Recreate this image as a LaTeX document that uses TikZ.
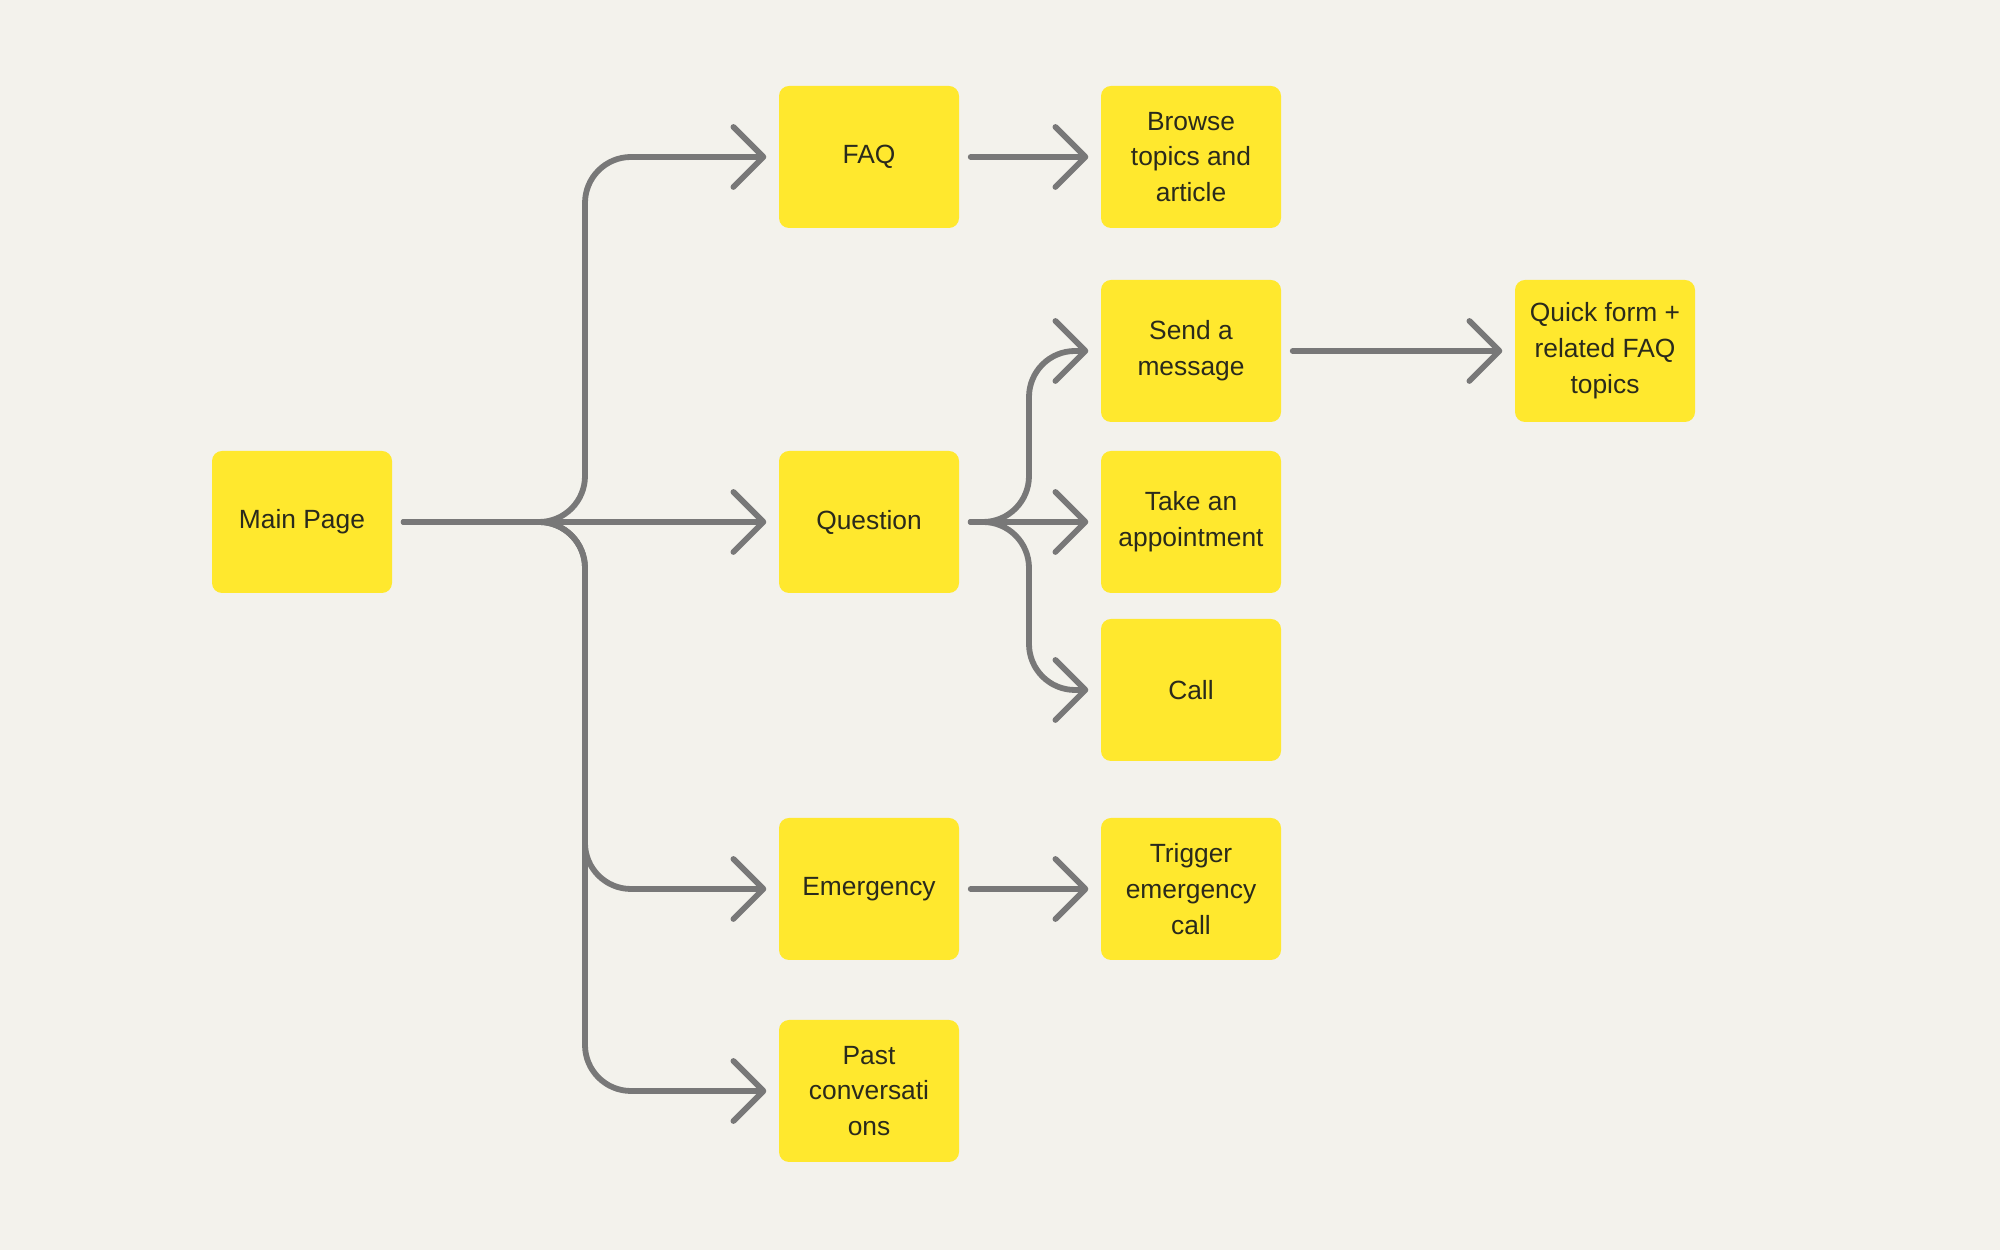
\documentclass[tikz,border=0pt]{standalone}
\usepackage{fontspec}
\setmainfont{Liberation Sans}
\usepackage{tikz}
\usetikzlibrary{
arrows.meta,
calc
}
\definecolor{supbg}{HTML}{F3F2EC}
\definecolor{supyellow}{HTML}{FFE82E}
\definecolor{supgray}{HTML}{787878}
\definecolor{suptext}{HTML}{2A2A1C}

\begin{document}
\begin{tikzpicture}[
  >={Straight Barb[length=3mm, width=6mm, round]},
  page/.style={
    fill=supyellow, rounded corners=1mm,
    minimum width=1.8cm, minimum height=1.42cm,
    align=center, inner sep=2pt, text=suptext,
    font=\fontsize{7.5pt}{10.2pt}\selectfont
  },
  link/.style={
    ->, line width=1.65pt, supgray, line cap=round,
    rounded corners=4.6mm, shorten <=1.1mm, shorten >=1.2mm
  }
]

%% ============================================================
%%  CANVAS
%% ============================================================
\fill[supbg] (0,0) rectangle (20,12.5);
\useasboundingbox (0,0) rectangle (20,12.5);

%% ============================================================
%%  PAGES
%% ============================================================
\node[page] (main) at (3.02, 7.28) {Main Page};

\node[page] (faq)      at (8.69, 10.93) {FAQ};
\node[page] (question) at (8.69, 7.28)  {Question};
\node[page] (emerg)    at (8.69, 3.61)  {Emergency};
\node[page] (past)     at (8.69, 1.59)  {Past\\conversati\\ons};

\node[page] (browse)  at (11.91, 10.93) {Browse\\topics and\\article};
\node[page] (send)    at (11.91, 8.99)  {Send a\\message};
\node[page] (appt)    at (11.91, 7.28)  {Take an\\appointment};
\node[page] (call)    at (11.91, 5.60)  {Call};
\node[page] (trigger) at (11.91, 3.61)  {Trigger\\emergency\\call};

\node[page] (quick) at (16.05, 8.99) {Quick form +\\related FAQ\\topics};

%% ============================================================
%%  BRANCH POINTS
%% ============================================================
\coordinate (mainfork) at (5.85, 7.28);
\coordinate (askfork)  at (10.29, 7.28);

%% Main page -> sections
\draw[link] (main.east) -- (mainfork) |- (faq.west);
\draw[link] (main.east) -- (question.west);
\draw[link] (main.east) -- (mainfork) |- (emerg.west);
\draw[link] (main.east) -- (mainfork) |- (past.west);

%% Question -> contact options
\draw[link] (question.east) -- (askfork) |- (send.west);
\draw[link] (question.east) -- (appt.west);
\draw[link] (question.east) -- (askfork) |- (call.west);

%% Single steps
\draw[link] (faq.east) -- (browse.west);
\draw[link] (emerg.east) -- (trigger.west);
\draw[link] (send.east) -- (quick.west);

\end{tikzpicture}
\end{document}
